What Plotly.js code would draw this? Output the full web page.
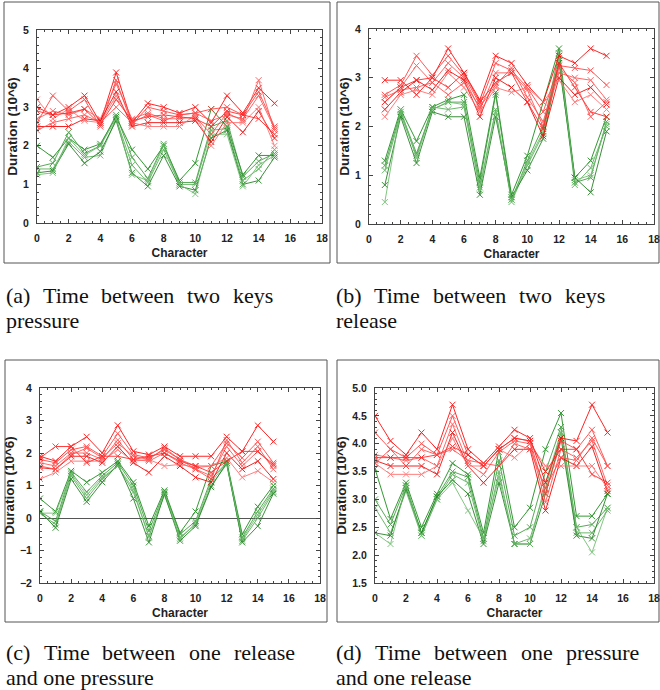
<!DOCTYPE html>
<html><head><meta charset="utf-8">
<script src="https://cdn.plot.ly/plotly-3.0.1.min.js"></script>
<style>body{margin:0;padding:0;background:#fff}#chart{width:660px;height:690px}</style>
</head><body><div id="chart"></div>
<script>
// ---- data ----
const charsFrom0 = [0,1,2,3,4,5,6,7,8,9,10,11,12,13,14,15];
const charsFrom1 = [1,2,3,4,5,6,7,8,9,10,11,12,13,14,15];
const xTicks = [0,2,4,6,8,10,12,14,16,18];

// (a) Time between two keys pressure
const redA = [
 [3.0,2.8,3.0,3.3,2.6,3.9,2.6,3.1,3.0,2.85,3.0,2.6,3.3,2.85,3.5,3.1],
 [2.6,3.3,2.9,3.2,2.5,3.7,2.55,3.0,2.9,2.8,2.85,2.95,3.0,2.8,3.4,2.5],
 [2.7,2.9,2.8,2.95,2.7,3.6,2.7,2.85,2.7,2.7,2.75,2.3,2.85,2.65,3.7,2.4],
 [2.5,2.5,2.5,2.7,2.65,3.4,2.5,2.6,2.6,2.6,2.65,2.1,2.75,2.35,2.9,2.2],
 [3.2,2.7,2.95,2.65,2.6,3.3,2.6,2.5,2.5,2.5,2.8,2.0,2.6,2.6,3.0,2.0],
 [2.9,2.8,2.85,2.95,2.55,3.2,2.65,2.75,2.8,2.75,2.7,2.5,2.9,2.8,2.7,2.3],
 [2.4,2.6,2.7,2.8,2.6,3.0,2.6,2.8,2.65,2.8,2.85,2.65,2.8,2.7,3.3,2.45]
];
const greenA = [
 [2.0,1.7,2.2,1.9,2.05,2.75,1.9,1.4,2.0,1.1,1.55,2.95,2.5,1.25,1.75,1.75],
 [1.45,1.55,2.35,1.8,2.0,2.8,1.7,1.15,2.05,1.05,1.05,2.5,2.65,1.2,1.6,1.8],
 [1.4,1.4,2.1,1.7,1.75,2.7,1.5,1.05,1.9,1.0,1.0,2.4,2.45,1.1,1.4,1.9],
 [1.3,1.35,2.05,1.55,1.85,2.65,1.3,0.95,1.75,0.95,0.85,2.2,2.4,1.0,1.1,1.7],
 [1.25,1.3,2.2,1.75,2.0,2.7,1.25,1.1,2.0,1.0,0.75,2.3,2.3,0.95,1.5,1.75]
];
// (b) Time between two keys release (characters 1..15)
const redB = [
 [2.95,2.95,2.65,3.0,3.6,3.1,2.55,3.45,3.3,2.85,2.5,3.45,3.3,3.6,3.45],
 [2.65,2.85,3.45,3.05,3.45,3.05,2.45,3.3,3.15,2.8,2.3,3.25,3.2,3.15,2.85],
 [2.5,2.8,3.25,2.9,3.3,3.0,2.35,3.1,3.1,2.75,2.0,3.1,3.0,2.95,2.55],
 [2.35,2.7,2.95,2.75,3.15,2.95,2.2,3.0,2.8,2.5,1.8,3.0,2.65,2.8,2.45],
 [2.2,2.65,2.75,2.65,3.1,2.8,2.3,2.8,2.7,2.8,2.5,2.95,2.5,2.65,2.35],
 [2.5,2.8,2.95,3.0,2.8,3.1,2.5,2.9,3.1,2.5,1.95,3.3,2.8,2.3,2.2],
 [2.6,2.75,2.8,2.9,2.65,2.9,2.4,2.85,3.2,2.6,2.1,3.2,2.9,2.2,2.5]
];
const greenB = [
 [1.3,2.35,1.7,2.4,2.55,2.65,0.95,2.7,0.6,1.4,2.5,3.6,0.95,1.3,2.2],
 [1.2,2.3,1.45,2.35,2.5,2.5,0.85,2.65,0.5,1.3,2.0,3.5,0.85,0.95,2.1],
 [1.1,2.25,1.4,2.4,2.35,2.4,0.75,2.35,0.45,1.2,1.85,3.4,0.8,1.15,2.0],
 [0.8,2.2,1.25,2.3,2.2,2.2,0.6,2.2,0.55,1.1,1.75,3.3,0.95,0.65,1.9],
 [0.45,2.35,1.35,2.35,2.5,2.45,0.7,2.3,0.5,1.25,1.9,3.45,0.9,1.0,2.05]
];
// (c) Time between one release and one pressure
const redC = [
 [1.9,1.75,2.2,2.5,2.0,2.85,2.05,1.95,2.2,1.9,1.9,1.9,2.5,2.05,2.85,2.35],
 [1.8,1.7,2.1,2.2,1.9,2.6,1.95,1.85,2.1,1.8,1.6,1.6,2.3,1.85,2.35,1.7],
 [1.7,1.6,2.0,2.0,1.8,2.4,1.8,1.75,2.0,1.7,1.5,1.3,2.2,1.6,2.05,1.6],
 [1.55,1.5,1.9,1.9,1.7,2.2,1.7,1.4,1.9,1.6,1.25,1.1,2.0,1.5,1.75,1.2],
 [1.2,1.4,1.75,1.75,1.75,2.1,1.75,1.8,1.6,1.65,1.55,1.6,1.85,1.25,1.45,1.1],
 [1.85,2.2,2.2,1.7,1.9,1.9,1.8,1.9,2.0,1.75,1.6,1.4,1.75,2.05,2.05,1.65],
 [1.6,1.5,1.95,2.15,1.85,2.3,1.9,1.8,2.15,1.8,1.5,1.2,2.4,1.7,2.2,1.5]
];
const greenC = [
 [0.6,0.2,1.45,1.1,1.4,1.75,1.1,-0.25,0.85,-0.45,0.2,1.6,1.75,-0.5,0.35,1.0],
 [0.2,-0.1,1.4,0.8,1.3,1.7,1.0,-0.4,0.8,-0.5,-0.1,1.2,1.7,-0.6,0.2,0.9],
 [0.15,-0.2,1.3,0.6,1.2,1.6,0.8,-0.55,0.7,-0.6,-0.2,1.0,1.65,-0.7,0.0,0.8],
 [0.2,-0.3,1.2,0.5,1.1,1.65,0.6,-0.75,0.75,-0.7,-0.25,0.95,1.7,-0.75,-0.25,0.75],
 [0.15,0.15,1.35,0.7,1.25,1.6,0.9,-0.6,0.8,-0.65,-0.15,1.1,1.7,-0.65,0.1,0.85]
];
// (d) Time between one pressure and one release
const redD = [
 [4.5,4.05,3.8,4.2,3.9,4.7,3.9,3.65,3.95,4.25,4.1,3.3,4.1,4.05,4.7,4.2],
 [4.2,3.9,3.75,4.0,3.8,4.5,3.8,3.6,3.9,4.1,4.05,3.1,4.05,3.9,4.25,3.6],
 [3.8,3.75,3.7,3.75,3.6,4.35,3.65,3.45,3.85,4.05,4.0,2.95,3.9,3.75,4.05,3.25],
 [3.7,3.6,3.6,3.6,3.45,4.2,3.6,3.3,3.6,3.9,3.9,2.8,3.75,3.6,3.95,3.15],
 [3.65,3.45,3.45,3.45,3.6,4.1,3.6,3.6,3.9,3.75,4.0,3.6,3.6,3.6,3.6,3.2],
 [3.75,3.75,3.75,3.75,3.8,3.95,3.8,3.6,3.9,4.1,4.05,3.5,3.9,3.9,3.45,3.3],
 [3.65,3.9,3.6,3.9,3.8,3.9,3.7,3.65,3.6,4.0,3.9,3.2,3.75,3.7,4.1,3.6]
];
const greenD = [
 [3.55,2.65,3.3,2.5,3.1,3.65,3.45,2.4,3.9,2.5,2.85,3.9,4.55,2.7,2.7,3.1],
 [3.0,2.55,3.25,2.4,3.05,3.5,3.4,2.3,3.7,2.35,2.5,3.5,4.3,2.5,2.55,2.85],
 [2.85,2.4,3.15,2.35,3.0,3.45,3.3,2.25,3.5,2.2,2.3,3.2,4.2,2.4,2.4,2.8],
 [2.4,2.35,3.2,2.4,3.05,3.35,3.1,2.2,3.3,2.2,2.2,3.1,4.1,2.35,2.3,3.1],
 [2.4,2.2,3.25,2.35,3.0,3.3,2.8,2.3,3.4,2.2,2.2,3.3,4.2,2.5,2.05,2.85]
];
const captionLine1 = [
 ["(a)","Time","between","two","keys"],
 ["(b)","Time","between","two","keys"],
 ["(c)","Time","between","one","release"],
 ["(d)","Time","between","one","pressure"]
];
const captionLine2 = ["pressure","release","and one pressure","and one release"];
const xTitle = "Character";
const yTitle = "Duration (10^6)";

// ---- styles / layout ----
const redShades = ['#ff0000','#ff3b3b','#ff5050','#f00000','#ff6a6a','#ff2020','#ff4a4a'];
const greenShades = ['#118811','#3b9b3b','#55ad55','#1a7d1a','#6cbc6c'];

const traces = [];
function addSeries(xs, sets, shades, xa, ya){
  sets.forEach((ys,i)=>{
    const c = shades[i % shades.length];
    traces.push({x:xs, y:ys, xaxis:xa, yaxis:ya, type:'scatter', mode:'lines+markers',
      line:{color:c, width:1}, opacity:0.85,
      marker:{symbol:'x-thin-open', size:6, color:c, line:{color:c, width:1}},
      showlegend:false, hoverinfo:'skip'});
  });
}
addSeries(charsFrom0, greenA, greenShades, 'x', 'y');
addSeries(charsFrom0, redA, redShades, 'x', 'y');
addSeries(charsFrom1, greenB, greenShades, 'x2', 'y2');
addSeries(charsFrom1, redB, redShades, 'x2', 'y2');
addSeries(charsFrom0, greenC, greenShades, 'x3', 'y3');
addSeries(charsFrom0, redC, redShades, 'x3', 'y3');
addSeries(charsFrom0, greenD, greenShades, 'x4', 'y4');
addSeries(charsFrom0, redD, redShades, 'x4', 'y4');

const W=660, H=690;
const sans = 'Liberation Sans';
const tickFont = {family:sans, size:10.5, color:'#222', weight:'bold'};
function xax(dom, anchor){
  return {domain:[dom[0]/W, dom[1]/W], anchor:anchor, range:[0,18], tickvals:xTicks,
    showline:true, mirror:'ticks', linecolor:'#444', linewidth:1, ticks:'inside', ticklen:4, tickcolor:'#444',
    minor:{dtick:0.5, ticks:'inside', ticklen:2, tickcolor:'#444', showgrid:false},
    showgrid:false, zeroline:false, tickfont:tickFont, ticklabelstandoff:5,
    title:{text:xTitle, font:{family:sans, size:12, color:'#222', weight:'bold'}, standoff:6}};
}
function yax(dom, anchor, range, dtick, minor, fmt, zl){
  return {domain:[1-dom[1]/H, 1-dom[0]/H], anchor:anchor, range:range, dtick:dtick, tick0:range[0],
    tickformat:fmt, showline:true, mirror:'ticks', linecolor:'#444', linewidth:1, ticks:'inside', ticklen:4, tickcolor:'#444',
    minor:{dtick:minor, ticks:'inside', ticklen:2, tickcolor:'#444', showgrid:false},
    showgrid:false, zeroline:zl, zerolinecolor:'#555', zerolinewidth:1, tickfont:tickFont, ticklabelstandoff:5,
    title:{text:yTitle, font:{family:sans, size:13.5, color:'#222', weight:'bold'}, standoff:2}};
}
const boxes = [[4,2,330,263],[337,2,659,263],[5,360,327,622],[337,360,659,622]];
const shapes = boxes.map(b=>({type:'rect', xref:'paper', yref:'paper', x0:b[0]/W, x1:b[2]/W, y0:1-b[3]/H, y1:1-b[1]/H,
  line:{color:'#555', width:1}, fillcolor:'rgba(0,0,0,0)'}));

// justified first caption lines: start and end x of each line
const capStart = [4,334,4,334];
const capEnd = [271,603,293,637];
const capY = [295,295,652,652];
const capSize = 22;
const serifFam = 'Liberation Serif';
const serif = {family:serifFam, size:capSize, color:'#111'};
const ctx = document.createElement('canvas').getContext('2d');
ctx.font = capSize + 'px "' + serifFam + '"';
const annotations = [];
captionLine1.forEach((words,i)=>{
  const widths = words.map(w=>ctx.measureText(w).width);
  const total = widths.reduce((s,v)=>s+v,0);
  const gap = (capEnd[i]-capStart[i]-total)/(words.length-1);
  let x = capStart[i];
  words.forEach((w,j)=>{
    annotations.push({text:w, xref:'paper', yref:'paper', x:x/W, y:1-capY[i]/H,
      xanchor:'left', yanchor:'middle', showarrow:false, font:serif});
    x += widths[j] + gap;
  });
  annotations.push({text:captionLine2[i], xref:'paper', yref:'paper', x:capStart[i]/W, y:1-(capY[i]+25)/H,
      xanchor:'left', yanchor:'middle', showarrow:false, font:serif});
});

const layout = {
  width:W, height:H, margin:{l:0,r:0,t:0,b:0}, paper_bgcolor:'#fff', plot_bgcolor:'#fff', showlegend:false,
  xaxis: xax([37,322],'y'),  yaxis: yax([30,223],'x',[0,5],1,0.2,'d',false),
  xaxis2:xax([369,654],'y2'), yaxis2:yax([29,224],'x2',[0,4],1,0.2,'d',false),
  xaxis3:xax([40,320],'y3'), yaxis3:yax([388,583],'x3',[-2,4],1,0.2,'d',true),
  xaxis4:xax([375,654],'y4'), yaxis4:yax([388,583],'x4',[1.5,5],0.5,0.1,'.1f',false),
  shapes:shapes, annotations:annotations
};
Plotly.newPlot('chart', traces, layout, {staticPlot:true, displayModeBar:false});
</script></body></html>
